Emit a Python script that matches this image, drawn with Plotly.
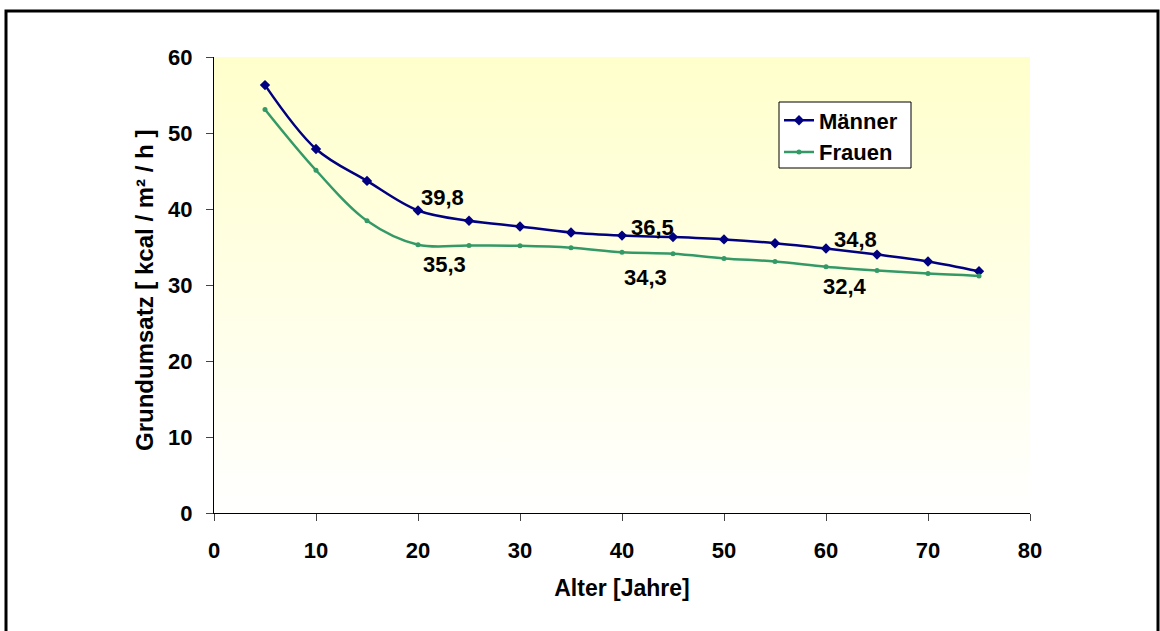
import plotly.graph_objects as go

# Age groups (years) and basal metabolic rate (kcal / m² / h)
alter = [5, 10, 15, 20, 25, 30, 35, 40, 45, 50, 55, 60, 65, 70, 75]
maenner = [56.3, 47.9, 43.7, 39.8, 38.45, 37.7, 36.9, 36.5, 36.3, 36.0, 35.5, 34.8, 34.0, 33.1, 31.8]
frauen = [53.1, 45.1, 38.45, 35.3, 35.2, 35.15, 34.9, 34.3, 34.1, 33.5, 33.1, 32.4, 31.9, 31.5, 31.2]

x_ticks = [0, 10, 20, 30, 40, 50, 60, 70, 80]
y_ticks = [0, 10, 20, 30, 40, 50, 60]

x_title = "Alter [Jahre]"
y_title = "Grundumsatz [ kcal / m² / h ]"

# which points carry a value label, and where the label sits relative to the point (px)
label_idx_m = [3, 7, 11]
label_off_m = [(24, 13), (30, 8), (29, 9)]
label_idx_f = [3, 7, 11]
label_off_f = [(26, -20), (23, -25), (19, -20)]

FONT = "Liberation Sans, Arial, sans-serif"
NAVY = "#000080"
GREEN = "#339966"

fig = go.Figure()

# yellow-to-white background of the plotting area
fig.add_trace(go.Scatter(
    x=[x_ticks[0], x_ticks[-1], x_ticks[-1], x_ticks[0]],
    y=[y_ticks[0], y_ticks[0], y_ticks[-1], y_ticks[-1]],
    fill="toself", mode="none",
    fillgradient=dict(type="vertical",
                      colorscale=[[0, "#FFFFFF"], [1, "#FFFFCC"]],
                      start=y_ticks[0], stop=y_ticks[-1]),
    hoverinfo="skip", showlegend=False,
))

fig.add_trace(go.Scatter(
    x=alter, y=maenner, name="Männer", mode="lines+markers",
    line=dict(color=NAVY, width=2.5, shape="spline", smoothing=1),
    marker=dict(symbol="diamond", size=8, color=NAVY),
))
fig.add_trace(go.Scatter(
    x=alter, y=frauen, name="Frauen", mode="lines+markers",
    line=dict(color=GREEN, width=2.5, shape="spline", smoothing=1),
    marker=dict(symbol="circle", size=5, color=GREEN),
))

def fmt(v):
    return f"{v:.1f}".replace(".", ",")

W, H = 1160, 631
ML, MR, MT, MB = 214, 130, 57, 118
pw, ph = W - ML - MR, H - MT - MB

def px_x(p):
    return (p - ML) / pw

def px_y(p):
    return (H - MB - p) / ph

annotations = []
for idx_list, offs, series in ((label_idx_m, label_off_m, maenner),
                               (label_idx_f, label_off_f, frauen)):
    for i, (dx, dy) in zip(idx_list, offs):
        annotations.append(dict(
            x=alter[i], y=series[i], text=fmt(series[i]), showarrow=False,
            xanchor="center", yanchor="middle", xshift=dx, yshift=dy,
            font=dict(family=FONT, size=22, color="black", weight="bold"),
        ))

# vertical axis title
annotations.append(dict(
    xref="paper", yref="paper", x=px_x(144), y=px_y(291),
    text=y_title, textangle=-90, showarrow=False,
    xanchor="center", yanchor="middle",
    font=dict(family=FONT, size=24, color="black", weight="bold"),
))

fig.update_layout(
    width=W, height=H,
    margin=dict(l=ML, r=MR, t=MT, b=MB, pad=0),
    paper_bgcolor="white", plot_bgcolor="white",
    font=dict(family=FONT, color="black"),
    annotations=annotations,
    showlegend=True,
    legend=dict(
        x=px_x(779), y=px_y(99.5), xanchor="left", yanchor="top",
        bgcolor="rgba(0,0,0,0)", borderwidth=0,
        font=dict(family=FONT, size=22, color="black", weight="bold"),
        itemwidth=30, tracegroupgap=0,
    ),
    shapes=[
        # legend box
        dict(type="rect", xref="paper", yref="paper",
             x0=px_x(779), x1=px_x(911), y0=px_y(168), y1=px_y(102),
             line=dict(color="black", width=1), fillcolor="white", layer="above"),
        # outer frame
        dict(type="rect", xref="paper", yref="paper",
             x0=px_x(6), x1=px_x(1158), y0=px_y(645), y1=px_y(11),
             line=dict(color="black", width=3), fillcolor="rgba(0,0,0,0)",
             layer="above"),
    ],
    hovermode=False,
)

axis_common = dict(
    showgrid=False, zeroline=False, showline=True, linecolor="black", linewidth=1,
    ticks="outside", ticklen=7, tickwidth=1, tickcolor="#444",
    tickfont=dict(family=FONT, size=22, color="black", weight="bold"),
)
fig.update_xaxes(
    range=[x_ticks[0], x_ticks[-1]], tickvals=x_ticks,
    ticklabelstandoff=11,
    title=dict(text=x_title, standoff=17,
               font=dict(family=FONT, size=23, color="black", weight="bold")),
    **axis_common,
)
fig.update_yaxes(
    range=[y_ticks[0], y_ticks[-1]], tickvals=y_ticks,
    ticklabelstandoff=9,
    **axis_common,
)

fig.write_html("out.html")
